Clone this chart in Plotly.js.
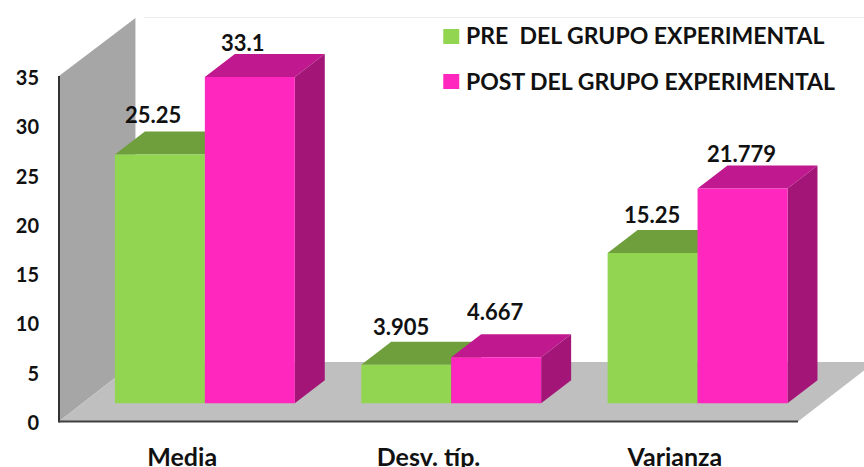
<!DOCTYPE html>
<html><head><meta charset="utf-8">
<script src="https://cdn.plot.ly/plotly-3.0.1.min.js"></script>
<style>html,body{margin:0;padding:0;background:#fff;overflow:hidden}</style>
</head><body><div id="chart" style="width:864px;height:467px"></div>
<script>
const categories = ["Media", "Desv. típ.", "Varianza"];
const preValues = [25.25, 3.905, 15.25];
const postValues = [33.1, 4.667, 21.779];
const yTicks = [0, 5, 10, 15, 20, 25, 30, 35];
const preName = "PRE  DEL GRUPO EXPERIMENTAL";
const postName = "POST DEL GRUPO EXPERIMENTAL";

const FONT = "Lato, Carlito, sans-serif";
const W = 864, H = 467, L = 58.5, R = 798, T = 78, B = 423, PT = 10, AXIS_Y = 421.5, AXIS_TOP = 76;
const xUnit = (R - L) / 3, yUnit = (B - T) / 35;
const barW = 90 / xUnit, preOff = (114.5 - 181.8) / xUnit, postOff = preOff + barW;
const base = 19.7 / yUnit, dx = 30 / xUnit, dy = 23 / yUnit;
const xs = categories.map((_, i) => i);
const GREEN = "#92D550", PINK = "#FF27BE";

function poly(fn, vals) {
  const X = [], Y = [];
  vals.forEach((v, i) => { fn(i, v).forEach(p => { X.push(p[0]); Y.push(p[1]); }); X.push(null); Y.push(null); });
  return {x: X, y: Y};
}
const topFace = off => (i, v) => { const a = i + off, t = base + v;
  return [[a, t], [a + dx, t + dy], [a + barW + dx, t + dy], [a + barW, t], [a, t]]; };
const sideFace = off => (i, v) => { const a = i + off + barW, t = base + v;
  return [[a, base], [a, t], [a + dx, t + dy], [a + dx, base + dy], [a, base]]; };
function face(pts, color, z) {
  return {type: "scatter", mode: "lines", x: pts.x, y: pts.y, fill: "toself", fillcolor: color,
    line: {width: 0, color: color}, hoverinfo: "skip", showlegend: false, zorder: z};
}
function bars(name, vals, off, color, z) {
  return {type: "bar", name: name, x: xs, y: vals, base: base, width: barW, offset: off,
    marker: {color: color, line: {width: 0}}, showlegend: false, zorder: z};
}
const traces = [
  face(poly(topFace(preOff), preValues), "#6F9F3C", 1),
  face(poly(sideFace(preOff), preValues), "#587F30", 1),
  bars(preName, preValues, preOff, GREEN, 2),
  face(poly(topFace(postOff), postValues), "#C0188F", 3),
  face(poly(sideFace(postOff), postValues), "#A31678", 3),
  bars(postName, postValues, postOff, PINK, 4)
];

// chart box and key, placed in paper coordinates
const px = x => (x - L) / (W - L), py = y => (B - y) / (B - PT);
const pathOf = pts => pts.map((p, i) => (i ? "L" : "M") + px(p[0]) + "," + py(p[1])).join(" ") + " Z";
const paperRect = (x0, x1, y0, y1, c) => ({type: "rect", xref: "paper", yref: "paper", line: {width: 0}, fillcolor: c,
  x0: px(x0), x1: px(x1), y0: py(y0), y1: py(y1)});
const paperLine = (x0, y0, x1, y1, c, w) => ({type: "line", xref: "paper", yref: "paper", line: {width: w, color: c},
  x0: px(x0), x1: px(x1), y0: py(y0), y1: py(y1)});
const shapes = [
  {type: "path", xref: "paper", yref: "paper", layer: "below", line: {width: 0}, fillcolor: "#A6A6A6",
   path: pathOf([[L, AXIS_TOP], [135, 18], [135, 362], [L, AXIS_Y]])},
  {type: "path", xref: "paper", yref: "paper", layer: "below", line: {width: 0}, fillcolor: "#BFBFBF",
   path: pathOf([[L, AXIS_Y], [135, 362], [875, 362], [R, AXIS_Y]])},
  Object.assign(paperLine(143, 17.5, 864, 17.5, "#EDEDED", 1), {layer: "below"}),
  paperLine(L, AXIS_TOP, L, AXIS_Y + 1, "#333333", 2),
  paperLine(L, AXIS_Y, R, AXIS_Y, "#404040", 2),
  paperRect(443, 459, 29, 44, GREEN),
  paperRect(443, 459, 74, 89, PINK)
];

const preNudge = [[-6.5, 40], [-5, 38.5], [-0.5, 38]];
const postNudge = [[-7, 35], [-0.5, 46], [-1, 35]];
function labels(vals, off, nudge) {
  return vals.map((v, i) => ({x: i + off + barW / 2, y: base + v, xref: "x", yref: "y", text: String(v),
    showarrow: false, xanchor: "center", yanchor: "middle", xshift: nudge[i][0], yshift: nudge[i][1],
    font: {family: FONT, size: 22, color: "#111", weight: 700}}));
}
const keyLabel = (text, y) => ({xref: "paper", yref: "paper", x: px(464), y: py(y), text: text, showarrow: false,
  xanchor: "left", yanchor: "middle", font: {family: FONT, size: 23, color: "#111", weight: 700}});

Plotly.newPlot("chart", traces, {
  width: W, height: H, autosize: false,
  margin: {l: L, r: 0, t: PT, b: H - B, pad: 0},
  paper_bgcolor: "#fff", plot_bgcolor: "rgba(0,0,0,0)",
  barmode: "overlay", showlegend: false, shapes: shapes,
  annotations: labels(preValues, preOff, preNudge).concat(labels(postValues, postOff, postNudge),
    [keyLabel(preName, 35), keyLabel(postName, 81)]),
  xaxis: {type: "linear", range: [-0.5, -0.5 + (W - L) / xUnit], fixedrange: true, showgrid: false, zeroline: false,
    tickmode: "array", tickvals: xs, ticktext: categories, ticks: "", ticklabelstandoff: 17,
    tickfont: {family: FONT, size: 25, color: "#111", weight: 700}, showline: false},
  yaxis: {range: [0, (B - PT) / yUnit], fixedrange: true, showgrid: false, zeroline: false,
    tickmode: "array", tickvals: yTicks, ticks: "", ticklabelstandoff: 19,
    tickfont: {family: FONT, size: 20, color: "#111", weight: 700}, showline: false}
}, {displayModeBar: false});
</script></body></html>
